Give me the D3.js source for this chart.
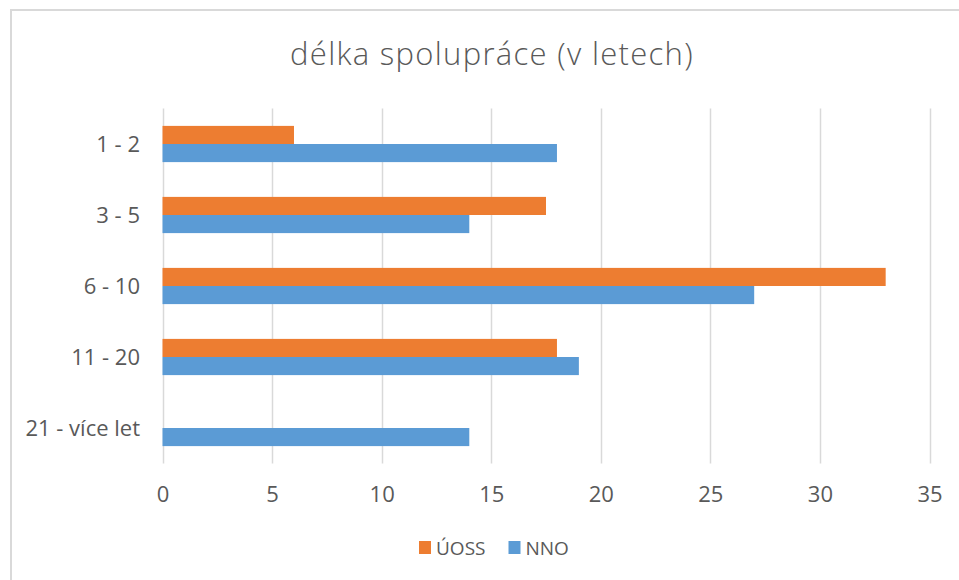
<!DOCTYPE html>
<html>
<head>
<meta charset="utf-8">
<script src="https://cdn.jsdelivr.net/npm/d3@7"></script>
<style>
  body { margin: 0; background: #fff; }
  text { font-family: "Open Sans", sans-serif; fill: #595959; }
</style>
</head>
<body>
<div id="chart"></div>
<script>
var categories = ['1 - 2', '3 - 5', '6 - 10', '11 - 20', '21 - více let'];
var seriesNames = ['ÚOSS', 'NNO'];
var uossValues = [6, 17.5, 33, 18, 0];
var nnoValues = [18, 14, 27, 19, 14];
var xTicks = [0, 5, 10, 15, 20, 25, 30, 35];
var seriesColors = ['#ED7D31', '#5B9BD5'];

var width = 959, height = 580;
var margin = {top: 108.5, left: 162.5, right: 29.5, bottom: 116.5};

var svg = d3.select('#chart').append('svg')
  .attr('width', width)
  .attr('height', height);

// outer chart border, runs off the right and bottom edges
svg.append('rect')
  .attr('x', 11).attr('y', 10)
  .attr('width', 980).attr('height', 600)
  .attr('fill', 'none')
  .attr('stroke', '#d9d9d9')
  .attr('stroke-width', 2);

var x = d3.scaleLinear()
  .domain([0, 35])
  .range([margin.left, width - margin.right]);

var y = d3.scaleBand()
  .domain(categories)
  .range([margin.top, height - margin.bottom])
  .paddingInner(0.49)
  .paddingOuter(0.245);

var ySub = d3.scaleBand()
  .domain(seriesNames)
  .range([0, y.bandwidth()]);

// gridlines
svg.append('g')
  .selectAll('line')
  .data(xTicks)
  .enter()
  .append('line')
  .attr('x1', function(d) { return Math.round(x(d)) + 0.5; })
  .attr('x2', function(d) { return Math.round(x(d)) + 0.5; })
  .attr('y1', margin.top)
  .attr('y2', height - margin.bottom)
  .attr('stroke', '#d9d9d9')
  .attr('stroke-width', 1.5);

var rows = categories.map(function(c, i) {
  return {cat: c, values: [uossValues[i], nnoValues[i]]};
});

var groups = svg.append('g')
  .selectAll('g')
  .data(rows)
  .enter()
  .append('g')
  .attr('transform', function(d) { return 'translate(0,' + y(d.cat) + ')'; });

groups.selectAll('rect')
  .data(function(d) {
    return d.values.map(function(v, j) { return {name: seriesNames[j], value: v, color: seriesColors[j]}; });
  })
  .enter()
  .append('rect')
  .attr('x', x(0))
  .attr('y', function(d) { return ySub(d.name); })
  .attr('width', function(d) { return x(d.value) - x(0); })
  .attr('height', ySub.bandwidth())
  .attr('fill', function(d) { return d.color; });

// x axis labels
var xAxis = d3.axisBottom(x).tickValues(xTicks).tickSize(0).tickPadding(0);
var gx = svg.append('g')
  .attr('transform', 'translate(0,' + (height - margin.bottom) + ')')
  .call(xAxis);
gx.select('.domain').remove();
gx.selectAll('text')
  .attr('y', 38)
  .attr('dy', null)
  .style('font-size', '22px')
  .style('fill', '#595959')
  .style('font-family', '"Open Sans", sans-serif');

// y axis labels
var yAxis = d3.axisLeft(y).tickSize(0).tickPadding(0);
var gy = svg.append('g')
  .attr('transform', 'translate(140,0)')
  .call(yAxis);
gy.select('.domain').remove();
gy.selectAll('text')
  .attr('dy', '0.36em')
  .style('font-size', '22px')
  .style('fill', '#595959')
  .style('font-family', '"Open Sans", sans-serif');

// title
svg.append('text')
  .attr('x', 492)
  .attr('y', 65)
  .attr('text-anchor', 'middle')
  .style('font-size', '31px')
  .style('font-weight', 300)
  .style('letter-spacing', '1.3px')
  .text('délka spolupráce (v letech)');

// legend
var legend = svg.append('g')
  .attr('transform', 'translate(419,548)');
var legendX = [0, 89.5];
var items = legend.selectAll('g')
  .data(seriesNames)
  .enter()
  .append('g')
  .attr('transform', function(d, i) { return 'translate(' + legendX[i] + ',0)'; });
items.append('rect')
  .attr('x', 0).attr('y', -7)
  .attr('width', 12).attr('height', 13)
  .attr('fill', function(d, i) { return seriesColors[i]; });
items.append('text')
  .attr('x', 17)
  .attr('y', 6.5)
  .style('font-size', '19px')
  .text(function(d) { return d; });
</script>
</body>
</html>
